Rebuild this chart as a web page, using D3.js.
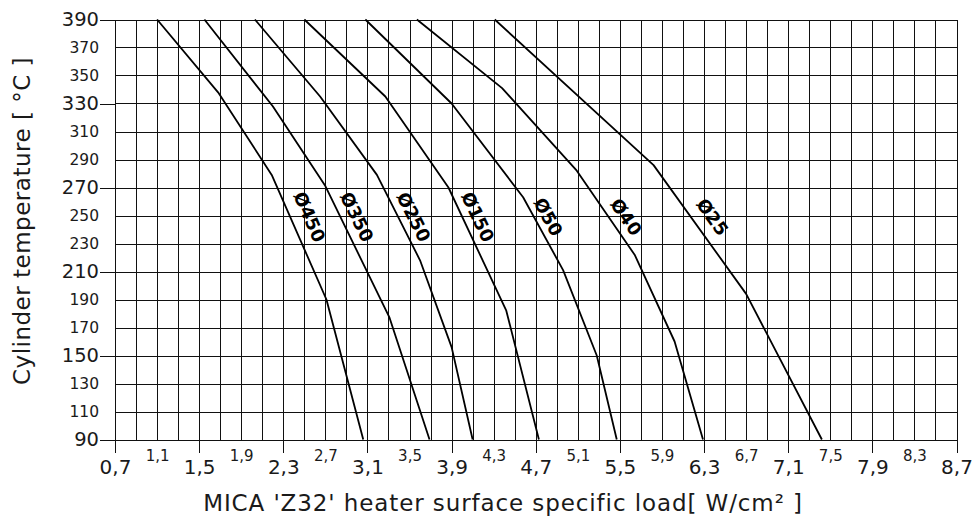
<!DOCTYPE html>
<html lang="en">
<head>
<meta charset="UTF-8">
<title>MICA Z32 heater load chart</title>
<script src="https://d3js.org/d3.v7.min.js"></script>
<style>
    * { margin: 0; padding: 0; }
    body { background: #fff; }
    svg { display: block; }
    text { font-family: "DejaVu Sans", sans-serif; fill: #1a1a1a; }
    .grid line { stroke: #111; stroke-width: 1; shape-rendering: crispEdges; }
    .curve { fill: none; stroke: #000; stroke-width: 1.8; stroke-linejoin: round; }
    .tag { font-weight: bold; font-size: 18px; fill: #000; }
</style>
</head>
<body>
<script>
    // tick values
    var xMajor = [0.7, 1.5, 2.3, 3.1, 3.9, 4.7, 5.5, 6.3, 7.1, 7.9, 8.7],
        xMinor = [1.1, 1.9, 2.7, 3.5, 4.3, 5.1, 5.9, 6.7, 7.5, 8.3],
        yMajor = [90, 150, 210, 270, 330, 390],
        yMinor = [110, 130, 170, 190, 230, 250, 290, 310, 350, 370];

    // curves: [load W/cm², temperature °C]
    var d450 = [[1.10, 390], [1.68, 338], [2.19, 279], [2.71, 190], [3.06, 90]],
        d350 = [[1.55, 390], [2.20, 328], [2.70, 271], [3.31, 177], [3.69, 90]],
        d250 = [[2.03, 390], [2.65, 335], [3.19, 279], [3.60, 218], [3.90, 156], [4.10, 90]],
        d150 = [[2.50, 390], [3.27, 335], [3.87, 270], [4.42, 182], [4.73, 90]],
        d50  = [[3.08, 390], [3.90, 330], [4.58, 263], [4.96, 211], [5.28, 150], [5.47, 90]],
        d40  = [[3.57, 390], [4.38, 341], [5.09, 282], [5.64, 222], [6.02, 160], [6.29, 90]],
        d25  = [[4.31, 390], [5.82, 286], [6.70, 194], [7.42, 90]];

    var names  = ["Ø450", "Ø350", "Ø250", "Ø150", "Ø50", "Ø40", "Ø25"],
        labelX = [2.55, 3.00, 3.54, 4.15, 4.82, 5.56, 6.38],
        labelY = 249;

    var series = [d450, d350, d250, d150, d50, d40, d25].map(function(p, i) {
        return {name: names[i], pts: p, lx: labelX[i]};
    });

    var W = 974, H = 520;
    var svg = d3.select("body").append("svg")
        .attr("width", W)
        .attr("height", H);

    var x = d3.scaleLinear().domain([0.7, 8.7]).range([115, 956.5]),
        y = d3.scaleLinear().domain([90, 390]).range([439.5, 19.5]);

    var comma = d3.formatLocale({decimal: ",", thousands: ".", grouping: [3], currency: ["", ""]}).format(".1f");

    // grid
    var gx = d3.range(41).map(function(i) { return +(0.7 + i * 0.2).toFixed(1) }),
        gy = d3.range(90, 391, 20);
    var grid = svg.append("g").attr("class", "grid");
    grid.selectAll(".v").data(gx).enter().append("line")
        .attr("x1", function(d) { return Math.round(x(d)) + 0.5 })
        .attr("x2", function(d) { return Math.round(x(d)) + 0.5 })
        .attr("y1", y(390)).attr("y2", y(90));
    grid.selectAll(".h").data(gy).enter().append("line")
        .attr("y1", function(d) { return Math.round(y(d)) + 0.5 })
        .attr("y2", function(d) { return Math.round(y(d)) + 0.5 })
        .attr("x1", x(0.7)).attr("x2", x(8.7));

    // axes
    function clean(g) {
        g.select(".domain").remove();
        g.selectAll(".tick line").attr("stroke", "#111").attr("shape-rendering", "crispEdges");
        g.selectAll("text").attr("fill", "#1a1a1a").attr("font-family", null);
    }
    svg.append("g").attr("transform", "translate(0," + y(90) + ")")
        .call(d3.axisBottom(x).tickValues(xMajor).tickSize(13).tickPadding(7).tickFormat(comma))
        .call(clean)
        .selectAll("text").attr("font-size", 20);
    svg.append("g").attr("transform", "translate(0," + y(90) + ")")
        .call(d3.axisBottom(x).tickValues(xMinor).tickSize(0).tickPadding(11).tickFormat(comma))
        .call(clean)
        .selectAll("text").attr("font-size", 15);
    svg.append("g").attr("transform", "translate(" + x(0.7) + ",0)")
        .call(d3.axisLeft(y).tickValues(yMajor).tickSize(15).tickPadding(1))
        .call(clean)
        .selectAll("text").attr("font-size", 19.5);
    svg.append("g").attr("transform", "translate(" + x(0.7) + ",0)")
        .call(d3.axisLeft(y).tickValues(yMinor).tickSize(0).tickPadding(16))
        .call(clean)
        .selectAll("text").attr("font-size", 15.5);

    // curves
    var line = d3.line()
        .x(function(d) { return x(d[0]) })
        .y(function(d) { return y(d[1]) });
    svg.selectAll(".curve").data(series).enter().append("path")
        .attr("class", "curve")
        .attr("d", function(d) { return line(d.pts) });

    // labels, turned along the curve
    function angleAt(pts, t) {
        for (var i = 0; i < pts.length - 1; i++) {
            if (pts[i][1] >= t && pts[i + 1][1] <= t) {
                var dx = x(pts[i + 1][0]) - x(pts[i][0]),
                    dy = y(pts[i + 1][1]) - y(pts[i][1]);
                return Math.atan2(dy, dx) * 180 / Math.PI;
            }
        }
        return 60;
    }
    svg.selectAll(".tag").data(series).enter().append("text")
        .attr("class", "tag")
        .attr("text-anchor", "middle")
        .attr("dominant-baseline", "central")
        .attr("transform", function(d) {
            return "translate(" + x(d.lx) + "," + y(labelY) + ") rotate(" + angleAt(d.pts, labelY) + ")";
        })
        .text(function(d) { return d.name });

    // titles
    svg.append("text")
        .attr("transform", "translate(30," + 221 + ") rotate(-90)")
        .attr("text-anchor", "middle")
        .attr("font-size", 23)
        .attr("letter-spacing", 0.5)
        .text("Cylinder temperature [ °C ]");
    svg.append("text")
        .attr("x", 503)
        .attr("y", 511)
        .attr("text-anchor", "middle")
        .attr("font-size", 23)
        .attr("letter-spacing", 0.9)
        .text("MICA 'Z32' heater surface specific load[ W/cm² ]");
</script>
</body>
</html>
